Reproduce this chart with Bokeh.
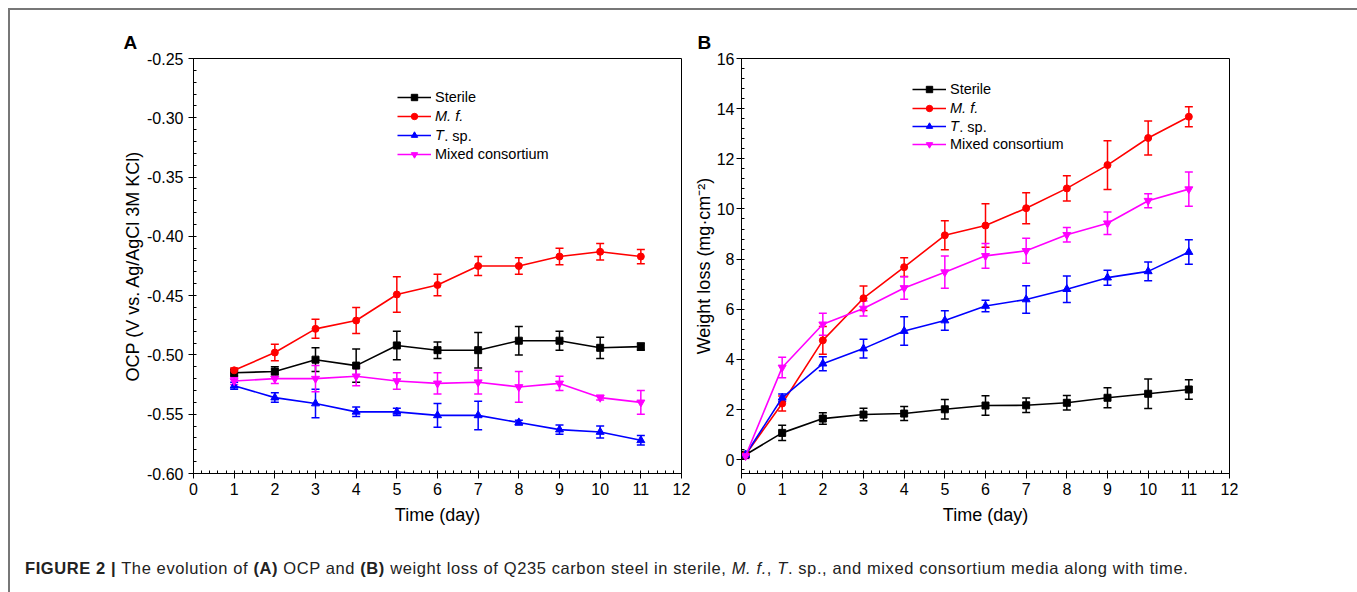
from bokeh.plotting import figure
from bokeh.models import (ColumnDataSource, Whisker, TeeHead, Legend, LegendItem, Label,
                          SingleIntervalTicker, FixedTicker, NumeralTickFormatter, Range1d, Div)
from bokeh.layouts import row, column
from bokeh.core.properties import value
from bokeh.embed import file_html
from bokeh.resources import INLINE

FONT = "Liberation Sans"

# ---------------- data ----------------
series_names = ["Sterile", "M. f.", "T. sp.", "Mixed consortium"]
series_colors = ["#000000", "#ff0000", "#0000ff", "#ff00ff"]
series_markers = ["square", "circle", "triangle", "inverted_triangle"]

# Panel A: OCP (V)
days_a = [1, 2, 3, 4, 5, 6, 7, 8, 9, 10, 11]
ocp_sterile = [-0.515, -0.514, -0.504, -0.509, -0.492, -0.496, -0.496, -0.488, -0.488, -0.494, -0.493]
ocp_sterile_err = [0.003, 0.004, 0.010, 0.014, 0.012, 0.007, 0.015, 0.012, 0.008, 0.009, 0.003]
ocp_mf = [-0.513, -0.498, -0.478, -0.471, -0.449, -0.441, -0.425, -0.425, -0.417, -0.413, -0.417]
ocp_mf_err = [0.002, 0.007, 0.008, 0.011, 0.015, 0.009, 0.008, 0.007, 0.007, 0.007, 0.006]
ocp_tsp = [-0.526, -0.536, -0.541, -0.548, -0.548, -0.551, -0.551, -0.557, -0.563, -0.565, -0.572]
ocp_tsp_err = [0.003, 0.004, 0.012, 0.004, 0.003, 0.010, 0.012, 0.002, 0.004, 0.005, 0.004]
ocp_mix = [-0.522, -0.520, -0.520, -0.518, -0.522, -0.524, -0.523, -0.527, -0.524, -0.536, -0.540]
ocp_mix_err = [0.003, 0.004, 0.011, 0.008, 0.007, 0.009, 0.010, 0.013, 0.006, 0.002, 0.010]

# Panel B: weight loss (mg/cm2)
days_b = [0.1, 1, 2, 3, 4, 5, 6, 7, 8, 9, 10, 11]
wl_sterile = [0.20, 1.07, 1.64, 1.80, 1.84, 2.01, 2.16, 2.17, 2.27, 2.47, 2.63, 2.80]
wl_sterile_err = [0.10, 0.30, 0.23, 0.25, 0.28, 0.39, 0.39, 0.29, 0.29, 0.40, 0.59, 0.39]
wl_mf = [0.20, 2.24, 4.76, 6.44, 7.68, 8.95, 9.34, 10.03, 10.82, 11.75, 12.83, 13.68]
wl_mf_err = [0.10, 0.30, 0.55, 0.49, 0.37, 0.58, 0.87, 0.62, 0.50, 0.97, 0.68, 0.40]
wl_tsp = [0.20, 2.47, 3.83, 4.43, 5.13, 5.55, 6.13, 6.39, 6.80, 7.26, 7.51, 8.28]
wl_tsp_err = [0.10, 0.15, 0.28, 0.37, 0.57, 0.39, 0.23, 0.55, 0.53, 0.30, 0.37, 0.49]
wl_mix = [0.15, 3.68, 5.40, 6.03, 6.85, 7.48, 8.13, 8.33, 8.97, 9.43, 10.33, 10.79]
wl_mix_err = [0.10, 0.41, 0.44, 0.30, 0.45, 0.64, 0.49, 0.50, 0.29, 0.45, 0.28, 0.68]

x_label = "Time (day)"
y_label_a = "OCP (V vs. Ag/AgCl 3M KCl)"
y_label_b = "Weight loss (mg\u00b7cm\u207b\u00b2)"
ocp_ticks = [-0.60, -0.55, -0.50, -0.45, -0.40, -0.35, -0.30, -0.25]


def style_axes(p, yticker, y_fmt, ylab, ylab_standoff, ymaj_standoff):
    p.xgrid.visible = False
    p.ygrid.visible = False
    p.outline_line_color = "black"
    p.outline_line_width = 1
    p.background_fill_color = "white"
    p.border_fill_color = "white"
    p.xaxis.ticker = SingleIntervalTicker(interval=1, num_minor_ticks=5)
    p.yaxis.ticker = yticker
    p.yaxis.formatter = NumeralTickFormatter(format=y_fmt)
    for ax in (p.xaxis[0], p.yaxis[0]):
        ax.axis_line_color = "black"
        ax.axis_line_width = 1
        ax.major_tick_line_color = "black"
        ax.minor_tick_line_color = "black"
        ax.major_tick_out = 5
        ax.major_tick_in = 0
        ax.minor_tick_out = 0
        ax.minor_tick_in = 3
        ax.major_label_text_font = FONT
        ax.major_label_text_font_size = "16px"
        ax.major_label_text_color = "black"
        ax.axis_label_text_font = FONT
        ax.axis_label_text_font_size = "18px"
        ax.axis_label_text_font_style = "normal"
        ax.axis_label_text_color = "black"
    p.xaxis.axis_label = x_label
    p.xaxis.major_label_standoff = 4
    p.xaxis.axis_label_standoff = 7
    p.yaxis.axis_label = ylab
    p.yaxis.major_label_standoff = ymaj_standoff
    p.yaxis.axis_label_standoff = ylab_standoff


def style_title(p, letter, offset):
    p.title.text = letter
    p.title.align = "left"
    p.title.offset = offset
    p.title.standoff = 12
    p.title.text_font = FONT
    p.title.text_font_size = "19px"
    p.title.text_font_style = "bold"
    p.title.text_color = "black"


def draw_series(p, xs, ys, errs, color, marker):
    src = ColumnDataSource(dict(x=xs, y=ys,
                                lo=[a - b for a, b in zip(ys, errs)],
                                hi=[a + b for a, b in zip(ys, errs)]))
    w = Whisker(source=src, base="x", lower="lo", upper="hi",
                line_color=color, line_width=1.5,
                upper_head=TeeHead(size=8, line_color=color, line_width=1.5),
                lower_head=TeeHead(size=8, line_color=color, line_width=1.5))
    p.add_layout(w)
    r_line = p.line("x", "y", source=src, line_color=color, line_width=1.6)
    size = 7 if marker in ("square", "circle") else 8
    r_mark = p.scatter("x", "y", source=src, marker=marker, size=size,
                       fill_color=color, line_color=color)
    return [r_line, r_mark]


def add_legends(p, rends, left_px, row_centers, frame_left, frame_bottom, px2x, py2y):
    styles = ["normal", "italic", "italic", "normal"]
    labels = ["Sterile", "M. f.", "T", "Mixed consortium"]
    for lab, st, rs, c in zip(labels, styles, rends, row_centers):
        lg = Legend(items=[LegendItem(label=value(lab), renderers=rs)],
                    location=(left_px - frame_left, frame_bottom - c - 8),
                    padding=0, margin=0, spacing=0,
                    glyph_width=34, glyph_height=16, label_height=16, label_width=10,
                    label_standoff=4, label_text_font=FONT, label_text_font_size="14.5px",
                    label_text_font_style=st, label_text_color="black",
                    border_line_color=None, background_fill_alpha=0)
        p.add_layout(lg)
    # ". sp." after italic T
    c = row_centers[2]
    p.add_layout(Label(x=px2x(left_px + 38 + 8.8), y=py2y(c), text=". sp.",
                       text_font=FONT, text_font_size="14.5px", text_baseline="middle",
                       text_align="left", text_color="black"))


FR_TOP, FR_BOTTOM = 58, 473  # page px

# ---------------- panel A ----------------
A_LEFT, A_RIGHT = 193, 681
pA = figure(width=680, height=518, x_range=Range1d(0, 12), y_range=Range1d(-0.60, -0.25),
            min_border_left=183, min_border_right=9, min_border_top=48, min_border_bottom=55,
            output_backend="svg", toolbar_location=None, title="A")
style_axes(pA, FixedTicker(ticks=ocp_ticks,
                           minor_ticks=[round(-0.60 + 0.01 * i, 2) for i in range(36)]),
           "0.00", y_label_a, 1, 5)
style_title(pA, "A", 123 - A_LEFT)

ax_a = lambda px: (px - A_LEFT) / (A_RIGHT - A_LEFT) * 12
ay_a = lambda py: -0.25 - (py - FR_TOP) / (FR_BOTTOM - FR_TOP) * 0.35

rA = []
for ys, es, col, mk in zip([ocp_sterile, ocp_mf, ocp_tsp, ocp_mix],
                           [ocp_sterile_err, ocp_mf_err, ocp_tsp_err, ocp_mix_err],
                           series_colors, series_markers):
    rA.append(draw_series(pA, days_a, ys, es, col, mk))
add_legends(pA, rA, 397, [97, 116, 135, 153.5], A_LEFT, FR_BOTTOM, ax_a, ay_a)

# ---------------- panel B ----------------
B_LEFT, B_RIGHT = 741, 1229
B_YMIN, B_YMAX = -0.55, 16
pB = figure(width=663, height=518, x_range=Range1d(0, 12), y_range=Range1d(B_YMIN, B_YMAX),
            min_border_left=51, min_border_right=124, min_border_top=48, min_border_bottom=55,
            output_backend="svg", toolbar_location=None, title="B")
style_axes(pB, SingleIntervalTicker(interval=2, num_minor_ticks=5), "0", y_label_b, 0, 2)
style_title(pB, "B", 697 - B_LEFT)

ax_b = lambda px: (px - B_LEFT) / (B_RIGHT - B_LEFT) * 12
ay_b = lambda py: B_YMAX - (py - FR_TOP) / (FR_BOTTOM - FR_TOP) * (B_YMAX - B_YMIN)

rB = []
for ys, es, col, mk in zip([wl_sterile, wl_mf, wl_tsp, wl_mix],
                           [wl_sterile_err, wl_mf_err, wl_tsp_err, wl_mix_err],
                           series_colors, series_markers):
    rB.append(draw_series(pB, days_b, ys, es, col, mk))
add_legends(pB, rB, 912, [89, 107.5, 126, 144], B_LEFT, FR_BOTTOM, ax_b, ay_b)

# ---------------- caption ----------------
caption = Div(text=("<b>FIGURE 2 |</b> The evolution of <b>(A)</b> OCP and <b>(B)</b> weight loss "
                    "of Q235 carbon steel in sterile, <i>M. f.</i>, <i>T</i>. sp., and mixed "
                    "consortium media along with time."),
              width=1343, height=56,
              styles={"font-family": FONT, "font-size": "16.5px", "letter-spacing": "0.6px",
                      "color": "#222222",
                      "padding-top": "25px", "padding-left": "10px", "line-height": "20px",
                      "box-sizing": "border-box", "white-space": "nowrap"})

layout = column(row(pA, pB), caption,
                styles={"border": "2px solid #777777", "border-bottom": "none",
                        "margin-left": "8px", "margin-top": "8px"})

open("out.html", "w").write(file_html(layout, INLINE))
